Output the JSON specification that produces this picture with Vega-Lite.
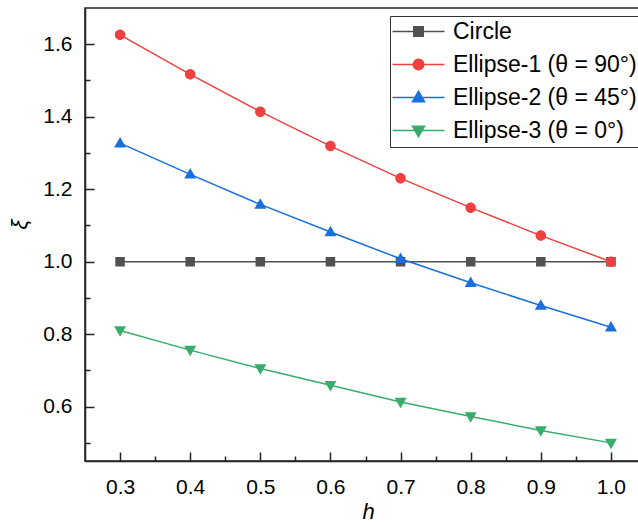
{
  "$schema": "https://vega.github.io/schema/vega-lite/v6.json",
  "width": 561,
  "height": 453,
  "autosize": {"type": "none"},
  "padding": {"left": 85, "top": 8, "right": 0, "bottom": 61},
  "background": "white",
  "config": {
    "view": {"stroke": "#222222", "strokeWidth": 1.5},
    "font": "Liberation Sans",
    "axis": {
      "domainColor": "#222222", "domainWidth": 1.5,
      "tickColor": "#222222", "tickWidth": 1.5,
      "grid": false,
      "labelFont": "Liberation Sans", "labelFontSize": 21, "labelColor": "black",
      "titleColor": "black", "titleFont": "Liberation Sans"
    },
    "legend": {
      "orient": "none", "legendX": 305, "legendY": 8,
      "padding": 4, "strokeColor": "#333333", "fillColor": "white",
      "labelFont": "Liberation Sans", "labelFontSize": 23, "labelColor": "black",
      "symbolStrokeWidth": 1.5, "symbolOpacity": 1, "symbolSize": 100,
      "symbolOffset": 13,
      "labelOffset": 23, "rowPadding": 9, "labelLimit": 400
    }
  },
  "data": {
    "values": [
      {"h": 0.3, "xi": 1.0, "series": "Circle"},
      {"h": 0.4, "xi": 1.0, "series": "Circle"},
      {"h": 0.5, "xi": 1.0, "series": "Circle"},
      {"h": 0.6, "xi": 1.0, "series": "Circle"},
      {"h": 0.7, "xi": 1.0, "series": "Circle"},
      {"h": 0.8, "xi": 1.0, "series": "Circle"},
      {"h": 0.9, "xi": 1.0, "series": "Circle"},
      {"h": 1.0, "xi": 1.0, "series": "Circle"},
      {"h": 0.3, "xi": 1.626, "series": "Ellipse-1 (θ = 90°)"},
      {"h": 0.4, "xi": 1.517, "series": "Ellipse-1 (θ = 90°)"},
      {"h": 0.5, "xi": 1.414, "series": "Ellipse-1 (θ = 90°)"},
      {"h": 0.6, "xi": 1.319, "series": "Ellipse-1 (θ = 90°)"},
      {"h": 0.7, "xi": 1.230, "series": "Ellipse-1 (θ = 90°)"},
      {"h": 0.8, "xi": 1.149, "series": "Ellipse-1 (θ = 90°)"},
      {"h": 0.9, "xi": 1.072, "series": "Ellipse-1 (θ = 90°)"},
      {"h": 1.0, "xi": 1.0, "series": "Ellipse-1 (θ = 90°)"},
      {"h": 0.3, "xi": 1.327, "series": "Ellipse-2 (θ = 45°)"},
      {"h": 0.4, "xi": 1.241, "series": "Ellipse-2 (θ = 45°)"},
      {"h": 0.5, "xi": 1.158, "series": "Ellipse-2 (θ = 45°)"},
      {"h": 0.6, "xi": 1.082, "series": "Ellipse-2 (θ = 45°)"},
      {"h": 0.7, "xi": 1.008, "series": "Ellipse-2 (θ = 45°)"},
      {"h": 0.8, "xi": 0.942, "series": "Ellipse-2 (θ = 45°)"},
      {"h": 0.9, "xi": 0.879, "series": "Ellipse-2 (θ = 45°)"},
      {"h": 1.0, "xi": 0.819, "series": "Ellipse-2 (θ = 45°)"},
      {"h": 0.3, "xi": 0.810, "series": "Ellipse-3 (θ = 0°)"},
      {"h": 0.4, "xi": 0.756, "series": "Ellipse-3 (θ = 0°)"},
      {"h": 0.5, "xi": 0.705, "series": "Ellipse-3 (θ = 0°)"},
      {"h": 0.6, "xi": 0.659, "series": "Ellipse-3 (θ = 0°)"},
      {"h": 0.7, "xi": 0.613, "series": "Ellipse-3 (θ = 0°)"},
      {"h": 0.8, "xi": 0.573, "series": "Ellipse-3 (θ = 0°)"},
      {"h": 0.9, "xi": 0.534, "series": "Ellipse-3 (θ = 0°)"},
      {"h": 1.0, "xi": 0.500, "series": "Ellipse-3 (θ = 0°)"}
    ]
  },
  "layer": [
    {
      "mark": {"type": "line", "strokeWidth": 1.5},
      "encoding": {
        "x": {
          "field": "h", "type": "quantitative",
          "scale": {"domain": [0.25, 1.05], "nice": false, "zero": false},
          "axis": {
            "orient": "bottom",
            "values": [0.3, 0.4, 0.5, 0.6, 0.7, 0.8, 0.9, 1.0],
            "format": ".1f", "tickSize": -9, "labelPadding": 24,
            "title": "h", "titleFontStyle": "italic", "titleFontWeight": "normal", "titleFontSize": 22,
            "titleX": 283, "titleY": 50, "titleBaseline": "middle", "titleAlign": "center"
          }
        },
        "y": {
          "field": "xi", "type": "quantitative",
          "scale": {"domain": [0.45, 1.7], "nice": false, "zero": false},
          "axis": {
            "orient": "left",
            "values": [0.6, 0.8, 1.0, 1.2, 1.4, 1.6],
            "format": ".1f", "tickSize": -9, "labelPadding": 22,
            "title": "ξ", "titleFontStyle": "italic", "titleFontWeight": "normal", "titleFontSize": 22,
            "titleX": -66, "titleY": 216, "titleBaseline": "middle", "titleAlign": "center", "titleAngle": 270
          }
        },
        "color": {
          "field": "series", "type": "nominal",
          "scale": {
            "domain": ["Circle", "Ellipse-1 (θ = 90°)", "Ellipse-2 (θ = 45°)", "Ellipse-3 (θ = 0°)"],
            "range": ["#515151", "#F14040", "#1A6FDF", "#37AD6B"]
          },
          "legend": {"title": null}
        }
      }
    },
    {
      "mark": {"type": "point", "filled": true, "opacity": 1, "size": 100, "strokeWidth": 0},
      "encoding": {
        "x": {
          "field": "h", "type": "quantitative",
          "axis": {
            "orient": "bottom",
            "values": [0.35, 0.45, 0.55, 0.65, 0.75, 0.85, 0.95],
            "tickSize": -5, "labels": false, "domain": false, "title": null
          }
        },
        "y": {
          "field": "xi", "type": "quantitative",
          "axis": {
            "orient": "left",
            "values": [0.5, 0.7, 0.9, 1.1, 1.3, 1.5],
            "tickSize": -5, "labels": false, "domain": false, "title": null
          }
        },
        "color": {"field": "series", "type": "nominal", "legend": {"title": null}},
        "stroke": {
          "field": "series", "type": "nominal",
          "scale": {
            "domain": ["Circle", "Ellipse-1 (θ = 90°)", "Ellipse-2 (θ = 45°)", "Ellipse-3 (θ = 0°)"],
            "range": ["#515151", "#F14040", "#1A6FDF", "#37AD6B"]
          },
          "legend": {"title": null}
        },
        "shape": {
          "field": "series", "type": "nominal",
          "scale": {
            "domain": ["Circle", "Ellipse-1 (θ = 90°)", "Ellipse-2 (θ = 45°)", "Ellipse-3 (θ = 0°)"],
            "range": [
              "M-5.2,0H5.2M-0.95,-0.95H0.95V0.95H-0.95Z",
              "M-5.2,0H5.2M1.05,0A1.05,1.05,0,1,1,-1.05,0A1.05,1.05,0,1,1,1.05,0Z",
              "M-5.2,0H5.2M0,-1.25L1.2,0.85L-1.2,0.85Z",
              "M-5.2,0H5.2M0,1.25L1.2,-0.85L-1.2,-0.85Z"
            ]
          },
          "legend": {"title": null}
        }
      }
    }
  ],
  "resolve": {
    "axis": {"x": "independent", "y": "independent"}
  }
}
